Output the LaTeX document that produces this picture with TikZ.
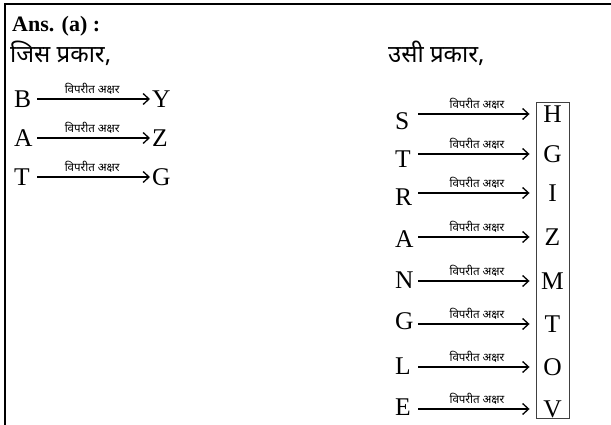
\documentclass[tikz,border=0pt]{standalone}
\usepackage{fontspec}
\setmainfont{Liberation Serif}
\newfontfamily\deva[Script=Devanagari]{Noto Sans}
\usetikzlibrary{arrows.meta}
\begin{document}
\begin{tikzpicture}[x=1pt,y=-1pt,
  lt/.style={inner sep=0pt, font=\fontsize{25.5}{25.5}\selectfont},
  ltl/.style={lt, anchor=west, text width=18pt, align=left},
  arr/.style={line width=1.3pt, -{Straight Barb[length=6pt,width=11pt,line width=1.3pt]}},
  lab/.style={font=\deva\fontsize{11.5}{11.5}\selectfont, inner sep=0pt, above=3.5pt},
  hd/.style={inner sep=0pt, anchor=base west, font=\deva\fontsize{24}{24}\selectfont}]
\useasboundingbox (0,0) rectangle (611,425);
\fill[white] (0,0) rectangle (611,425);
% frame
\draw[line width=2pt] (611,4) -- (5,4) -- (5,425);
% headers
\node[inner sep=0pt, anchor=base west, font=\bfseries\fontsize{22}{22}\selectfont] (ans) at (12,32) {Ans. (a) :};
\node[hd] (h1) at (10,63) {जिस प्रकार,};
\node[hd] (h2) at (388,63) {उसी प्रकार,};
% left block
\foreach \n/\a/\b/\y in {1/B/Y/99, 2/A/Z/138, 3/T/G/177}{
  \node[ltl] (l\n) at (14,\y) {\a};
  \node[lt, anchor=west] (r\n) at (152,\y) {\b};
  \draw[arr, shorten <=5pt, shorten >=2pt] (l\n.east) -- (l\n.east -| r\n.west)
     node[lab, midway] {विपरीत अक्षर};
}
% right block box
\node[draw=black!75, line width=0.9pt, minimum width=33pt, minimum height=316pt, inner sep=0pt] (box) at (552.5,260) {};
\foreach \n/\a/\b/\ly/\ry in {1/S/H/121/114, 2/T/G/159/154, 3/R/I/197/193, 4/A/Z/239/237, 5/N/M/280/281, 6/G/T/321/324, 7/L/O/366/367, 8/E/V/407/409}{
  \node[ltl] (s\n) at (395,\ly) {\a};
  \node[lt] (t\n) at (552.5,\ry) {\b};
  \draw[arr, shorten >=6pt] (s\n.east |- t\n) ++(5,0) coordinate (c\n) -- (c\n -| box.west)
     node[lab, midway] {विपरीत अक्षर};
}
\end{tikzpicture}
\end{document}
